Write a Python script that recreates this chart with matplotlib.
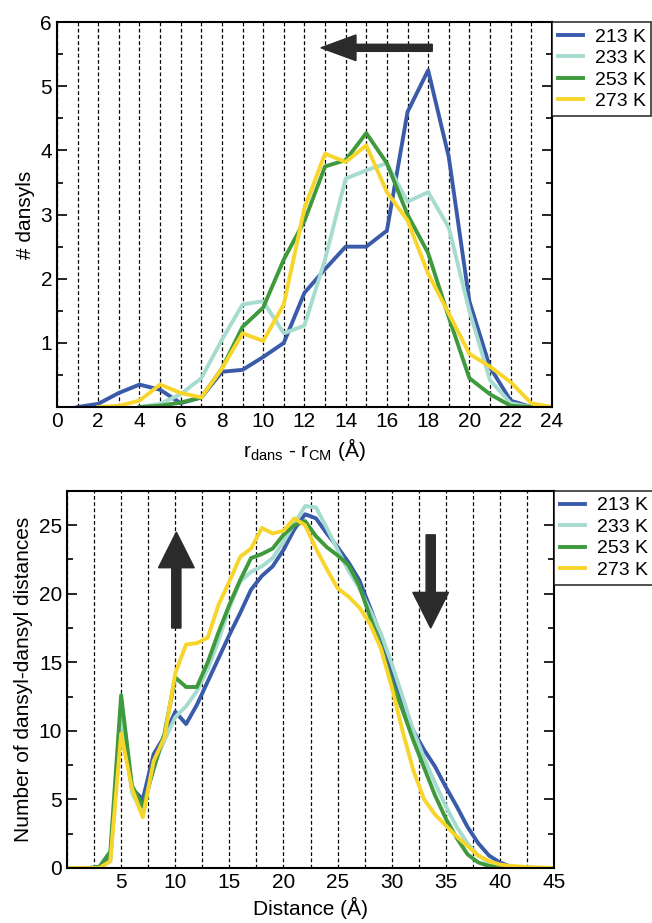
import numpy as np
import matplotlib
matplotlib.use("Agg")
import matplotlib.pyplot as plt
from matplotlib.ticker import MultipleLocator, FixedLocator

plt.rcParams['font.family'] = ['Liberation Sans', 'DejaVu Sans']
plt.rcParams['mathtext.fontset'] = 'custom'
plt.rcParams['mathtext.rm'] = 'Liberation Sans'

labels = ['213 K', '233 K', '253 K', '273 K']
colors = ['#3a5aaa', '#a6dcd0', '#3e9a3c', '#f7d52a']

# top panel: dansyl distribution vs distance from centre of mass
r_top = list(range(1, 25))
top_213 = [0, 0.05, 0.22, 0.35, 0.27, 0.06, 0.15, 0.55, 0.58, 0.78, 1.0, 1.78,
           2.15, 2.5, 2.5, 2.75, 4.6, 5.25, 3.9, 1.65, 0.62, 0.1, 0, np.nan]
top_233 = [np.nan, np.nan, np.nan, 0, 0.05, 0.2, 0.45, 1.05, 1.6, 1.65, 1.15, 1.27,
           2.3, 3.56, 3.69, 3.8, 3.2, 3.35, 2.8, 1.5, 0.42, 0.06, 0, np.nan]
top_253 = [np.nan, np.nan, np.nan, 0, 0.02, 0.07, 0.15, 0.6, 1.25, 1.55, 2.3, 2.9,
           3.75, 3.85, 4.27, 3.8, 3.0, 2.4, 1.4, 0.45, 0.2, 0.02, 0, np.nan]
top_273 = [np.nan, 0, 0.02, 0.1, 0.35, 0.22, 0.15, 0.6, 1.15, 1.03, 1.6, 3.1,
           3.95, 3.82, 4.08, 3.35, 2.91, 2.08, 1.46, 0.83, 0.63, 0.39, 0.06, 0]

# bottom panel: dansyl-dansyl distance distribution
d_bot = list(range(0, 46))
bot_213 = [0, 0, 0, 0, 0.7, 11.0, 5.8, 5.0, 8.3, 9.6, 11.4, 10.5, 11.9, 13.6, 15.3,
           17.0, 18.6, 20.3, 21.3, 22.0, 23.2, 24.7, 25.8, 25.5, 24.4, 23.4, 22.3,
           21.0, 19.0, 16.9, 14.2, 11.8, 10.0, 8.6, 7.4, 5.9, 4.5, 3.0, 1.8, 0.9,
           0.4, 0.1, 0.05, 0, 0, 0]
bot_233 = [0, 0, 0, 0, 0.5, 11.5, 5.5, 3.9, 7.5, 9.3, 11.0, 11.8, 12.9, 14.5, 16.6,
           19.0, 20.9, 21.6, 22.0, 22.6, 23.8, 25.1, 26.4, 26.3, 24.8, 23.2, 21.7,
           20.4, 18.8, 17.1, 14.9, 12.5, 10.0, 8.0, 6.2, 4.5, 3.0, 1.8, 0.9, 0.4,
           0.15, 0.05, 0, 0, 0, 0]
bot_253 = [0, 0, 0, 0.1, 1.2, 12.6, 6.0, 4.5, 7.2, 9.8, 13.9, 13.2, 13.2, 15.0, 17.2,
           19.2, 21.0, 22.6, 22.9, 23.3, 24.3, 25.0, 25.3, 24.2, 23.4, 22.8, 22.1,
           20.6, 18.3, 16.1, 13.6, 11.5, 9.3, 7.3, 5.3, 3.6, 2.2, 1.0, 0.4, 0.15,
           0.05, 0, 0, 0, 0, 0]
bot_273 = [0, 0, 0, 0, 0.5, 9.8, 5.8, 3.7, 7.8, 9.5, 14.2, 16.3, 16.4, 16.8, 19.2,
           20.9, 22.7, 23.3, 24.8, 24.4, 24.6, 25.5, 25.0, 23.3, 21.8, 20.4, 19.8,
           19.0, 17.8, 16.0, 13.2, 10.0, 7.1, 5.0, 3.9, 3.1, 2.3, 1.6, 0.9, 0.5,
           0.25, 0.15, 0.1, 0.05, 0.02, 0]

fig = plt.figure(figsize=(6.52, 9.23), dpi=100)
ax1 = fig.add_axes([0.0874, 0.559, 0.759, 0.417])
ax2 = fig.add_axes([0.1028, 0.0596, 0.747, 0.4085])


def style(ax):
    for s in ax.spines.values():
        s.set_linewidth(1.5)
    ax.tick_params(which='both', direction='in', left=True, right=True,
                   top=False, bottom=False, labelsize=15, width=1.2)
    ax.tick_params(which='major', length=7)
    ax.tick_params(which='minor', length=4)
    ax.grid(True, which='both', axis='x', color='black', linestyle=(0, (3, 2)),
            linewidth=0.9)
    ax.set_axisbelow(True)


def legend(ax):
    leg = ax.legend(loc='upper left', bbox_to_anchor=(1.0, 1.0), fontsize=14,
                    frameon=True, fancybox=False, edgecolor='black',
                    borderaxespad=0, handlelength=1.3, labelspacing=0.2,
                    handletextpad=0.6, borderpad=0.3)
    leg.get_frame().set_linewidth(1.2)


# --- top panel
for ys, c, lab in zip([top_213, top_233, top_253, top_273], colors, labels):
    ax1.plot(r_top, ys, color=c, lw=2.8, label=lab)
ax1.set_xlim(0, 24)
ax1.set_ylim(0, 6)
ax1.xaxis.set_major_locator(MultipleLocator(2))
ax1.xaxis.set_minor_locator(MultipleLocator(1))
ax1.yaxis.set_major_locator(FixedLocator([1, 2, 3, 4, 5, 6]))
ax1.yaxis.set_minor_locator(MultipleLocator(0.5))
style(ax1)
ax1.set_ylabel('# dansyls', fontsize=15)
ax1.set_xlabel(r'r$_{\mathrm{dans}}$ - r$_{\mathrm{CM}}$ (Å)', fontsize=15)
ax1.arrow(18.2, 5.6, -5.4, 0, width=0.11, head_width=0.4, head_length=1.7,
          length_includes_head=True, color='#2b2b2b', zorder=5)
legend(ax1)

# --- bottom panel
for ys, c, lab in zip([bot_213, bot_233, bot_253, bot_273], colors, labels):
    ax2.plot(d_bot, ys, color=c, lw=2.8, label=lab)
ax2.set_xlim(0, 45)
ax2.set_ylim(0, 27.5)
ax2.xaxis.set_major_locator(FixedLocator([5, 10, 15, 20, 25, 30, 35, 40, 45]))
ax2.xaxis.set_minor_locator(MultipleLocator(2.5))
ax2.yaxis.set_major_locator(MultipleLocator(5))
ax2.yaxis.set_minor_locator(MultipleLocator(2.5))
style(ax2)
ax2.set_ylabel('Number of dansyl-dansyl distances', fontsize=15)
ax2.set_xlabel('Distance (Å)', fontsize=15)
ax2.arrow(10.1, 17.5, 0, 7.0, width=0.85, head_width=3.3, head_length=2.6,
          length_includes_head=True, color='#2b2b2b', zorder=5)
ax2.arrow(33.6, 24.3, 0, -6.8, width=0.85, head_width=3.3, head_length=2.6,
          length_includes_head=True, color='#2b2b2b', zorder=5)
legend(ax2)

fig.savefig('out.png', dpi=100)
